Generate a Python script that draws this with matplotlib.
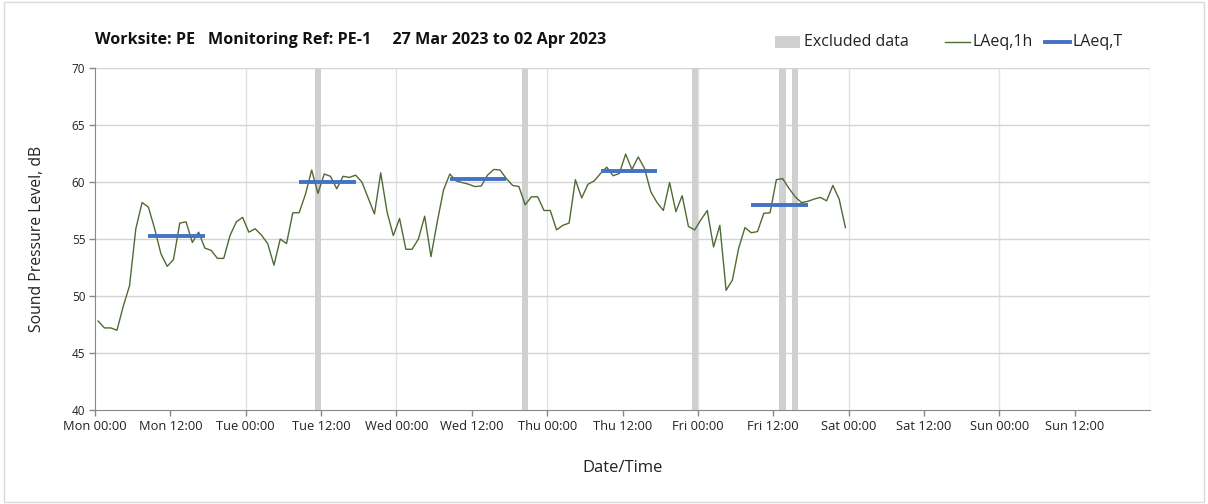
import matplotlib
matplotlib.use("Agg")
import matplotlib.pyplot as plt
from matplotlib.patches import Rectangle
from matplotlib.lines import Line2D
import numpy as np

plt.rcParams['font.family'] = ['Open Sans', 'DejaVu Sans']

# Hourly LAeq,1h values, Mon 27 Mar 00:00 .. Fri 31 Mar 23:00 (plotted at mid-hour)
laeq_1h = [
    47.8, 47.2, 47.2, 47.0, 49.1, 50.9, 55.9, 58.2, 57.8, 55.9, 53.7, 52.6,
    53.2, 56.4, 56.5, 54.7, 55.6, 54.2, 54.0, 53.3, 53.3, 55.3, 56.5, 56.9,
    55.6, 55.9, 55.35, 54.6, 52.7, 55.0, 54.6, 57.3, 57.3, 58.9, 61.05, 59.0,
    60.7, 60.5, 59.4, 60.5, 60.4, 60.6, 60.0, 58.6, 57.2, 60.8, 57.4, 55.3,
    56.8, 54.1, 54.1, 55.0, 57.0, 53.45, 56.5, 59.3, 60.7, 60.1, 59.95, 59.8,
    59.6, 59.65, 60.6, 61.1, 61.05, 60.3, 59.7, 59.6, 58.0, 58.7, 58.7, 57.5,
    57.5, 55.8, 56.2, 56.4, 60.2, 58.6, 59.8, 60.1, 60.75, 61.3, 60.55, 60.75,
    62.45, 61.1, 62.2, 61.2, 59.15, 58.2, 57.5, 59.95, 57.4, 58.8, 56.1, 55.8,
    56.7, 57.5, 54.3, 56.2, 50.5, 51.4, 54.2, 56.0, 55.55, 55.65, 57.25, 57.3,
    60.2, 60.3, 59.45, 58.7, 58.2, 58.3, 58.5, 58.65, 58.35, 59.7, 58.5, 56.0,
]
# Daily LAeq,T over the working period (start hour, end hour from Mon 00:00)
laeq_t_values = [55.3, 60.0, 60.25, 61.0, 58.0]
laeq_t_start = [8.5, 32.5, 56.5, 80.5, 104.5]
laeq_t_end = [17.5, 41.5, 65.5, 89.5, 113.5]
# Excluded periods (start hour, end hour from Mon 00:00)
excl_start = [35, 68, 95, 109, 111]
excl_end = [36, 69, 96, 110, 112]

tick_labels = ["Mon 00:00", "Mon 12:00", "Tue 00:00", "Tue 12:00", "Wed 00:00",
               "Wed 12:00", "Thu 00:00", "Thu 12:00", "Fri 00:00", "Fri 12:00",
               "Sat 00:00", "Sat 12:00", "Sun 00:00", "Sun 12:00"]
legend_labels = ["Excluded data", "LAeq,1h", "LAeq,T"]

GREY = '#d0d0d0'
GREEN = '#4f6b34'
BLUE = '#4472C4'

hours = np.arange(len(laeq_1h)) + 0.5

W, H = 1208, 504
fig = plt.figure(figsize=(W/100, H/100), dpi=100)
ax = fig.add_axes([95/W, 1-410/H, (1150-95)/W, (410-68)/H])

for s, e in zip(excl_start, excl_end):
    ax.axvspan(s, e, color=GREY, lw=0, zorder=1)

for d in range(1, 8):
    ax.axvline(d*24, color='#e2e2e2', lw=1, zorder=0.5)
for yv in range(45, 71, 5):
    ax.axhline(yv, color='#d4d4d4', lw=1, zorder=0.5)

ax.plot(hours, laeq_1h, color=GREEN, lw=1.0, zorder=3)
for v, s, e in zip(laeq_t_values, laeq_t_start, laeq_t_end):
    ax.plot([s, e], [v, v], color=BLUE, lw=2.8, zorder=4, solid_capstyle='butt')

ax.set_xlim(0, 168)
ax.set_ylim(40, 70)
ax.set_xticks(np.arange(0, 168, 12))
ax.set_xticklabels(tick_labels, fontsize=9.3, color='#222222')
ax.set_yticks(range(40, 71, 5))
ax.set_yticklabels([str(v) for v in range(40, 71, 5)], fontsize=8.5, color='#222222')
ax.tick_params(axis='both', direction='out', length=4, color='#888888', width=1, pad=3)
for sp in ['top', 'right']:
    ax.spines[sp].set_visible(False)
for sp in ['left', 'bottom']:
    ax.spines[sp].set_color('#888888')

ax.set_ylabel("Sound Pressure Level, dB", fontsize=11.3, color='#222222', labelpad=19)
ax.set_xlabel("Date/Time", fontsize=12, color='#222222', labelpad=20)

fig.text(95/W, 1-40/H, "Worksite: PE   Monitoring Ref: PE-1     27 Mar 2023 to 02 Apr 2023",
         fontsize=11.6, fontweight='bold', color='#111111', ha='left', va='center')

# legend drawn in figure pixel coordinates
ly = 1-42/H
fig.patches.append(Rectangle((775/W, 1-48/H), 25/W, 12/H, transform=fig.transFigure,
                             facecolor=GREY, edgecolor='none'))
fig.text(804/W, ly, legend_labels[0], fontsize=11.5, color='#222222', va='center', ha='left')
fig.lines.append(Line2D([945/W, 970/W], [ly, ly], transform=fig.transFigure, color=GREEN, lw=1.0))
fig.text(973/W, ly, legend_labels[1], fontsize=11.5, color='#222222', va='center', ha='left')
fig.lines.append(Line2D([1045/W, 1070/W], [ly, ly], transform=fig.transFigure, color=BLUE, lw=2.8))
fig.text(1072/W, ly, legend_labels[2], fontsize=11.5, color='#222222', va='center', ha='left')

fig.patches.append(Rectangle((4/W, 2/H), 1200/W, 500/H, transform=fig.transFigure,
                             fill=False, edgecolor='#dadada', lw=1))

fig.savefig("out.png", dpi=100)
